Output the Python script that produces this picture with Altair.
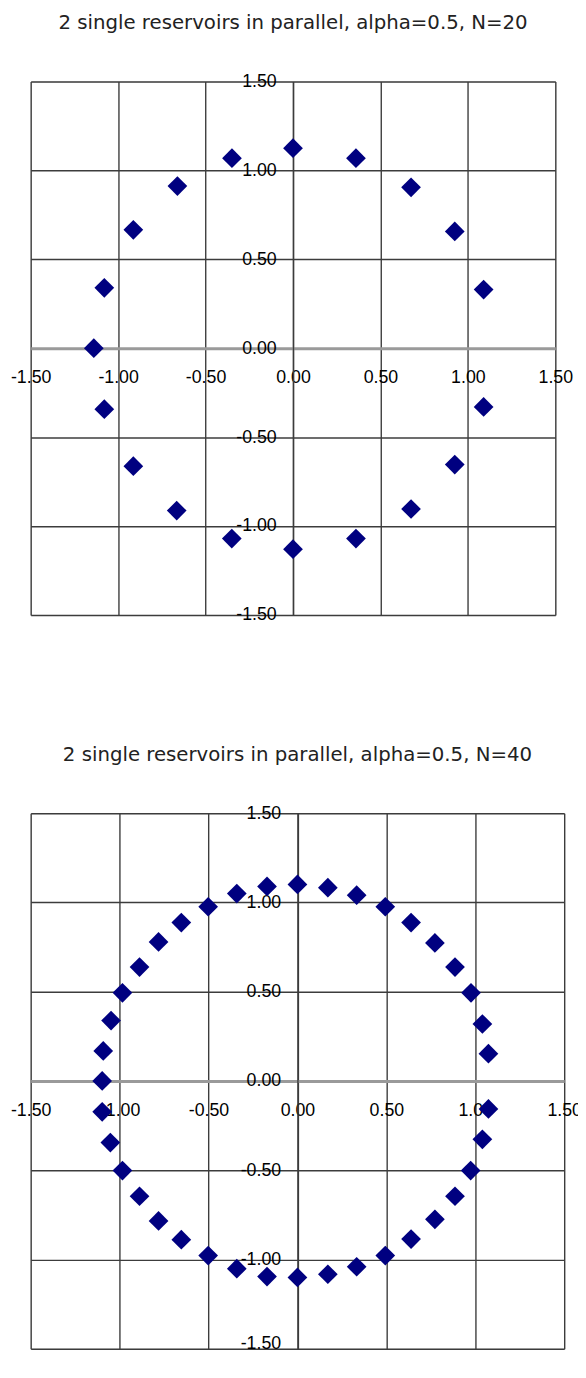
import altair as alt
import pandas as pd

# ---- data ----
title_1 = "2 single reservoirs in parallel, alpha=0.5, N=20"
x_20 = [0.00, 0.36, 0.675, 0.925, 1.09, 1.09, 0.925, 0.675, 0.36, 0.00,
        -0.35, -0.665, -0.913, -1.079, -1.139, -1.079, -0.913, -0.661, -0.349]
y_20 = [1.125, 1.069, 0.905, 0.657, 0.330, -0.330, -0.654, -0.904, -1.070, -1.130,
        -1.070, -0.913, -0.663, -0.343, 0.00, 0.340, 0.666, 0.912, 1.069]

title_2 = "2 single reservoirs in parallel, alpha=0.5, N=40"
x_40 = [0.00, 0.171, 0.333, 0.494, 0.639, 0.773, 0.886, 0.976, 1.040, 1.074,
        1.074, 1.040, 0.974, 0.886, 0.773, 0.639, 0.494, 0.333, 0.171, 0.00,
        -0.171, -0.341, -0.502, -0.653, -0.781, -0.888, -0.984, -1.052, -1.098, -1.098,
        -1.092, -1.048, -0.984, -0.888, -0.781, -0.653, -0.502, -0.341, -0.171]
y_40 = [1.101, 1.083, 1.041, 0.976, 0.887, 0.773, 0.638, 0.494, 0.319, 0.153,
        -0.157, -0.327, -0.502, -0.646, -0.775, -0.886, -0.978, -1.041, -1.083, -1.101,
        -1.096, -1.052, -0.978, -0.889, -0.784, -0.646, -0.502, -0.345, -0.173, 0.00,
        0.168, 0.338, 0.494, 0.638, 0.779, 0.887, 0.976, 1.050, 1.090]

tick_values = [-1.5, -1.0, -0.5, 0.0, 0.5, 1.0, 1.5]


def panel(xs, ys, title, w, h, lift_bottom_label=False):
    df = pd.DataFrame({"x": xs, "y": ys})
    label_expr = "replace(format(datum.value, '.2f'), '\u2212', '-')"
    y_baseline = (
        alt.condition("datum.value == -1.5", alt.value("alphabetic"), alt.value("middle"))
        if lift_bottom_label else "middle"
    )
    x_axis = alt.Axis(
        orient="bottom", offset=-h / 2, values=tick_values, labelExpr=label_expr,
        grid=True, gridColor="#3c3c3c", gridWidth=1.4,
        domain=True, domainColor="#9a9a9a", domainWidth=3,
        ticks=False, labelPadding=21, labelFlush=False, labelOverlap=False,
        labelBound=False, labelFont="Liberation Sans", labelFontSize=18,
        labelColor="#000", title=None, zindex=0,
    )
    y_axis = alt.Axis(
        orient="left", offset=-w / 2, values=tick_values, labelExpr=label_expr,
        grid=True, gridColor="#3c3c3c", gridWidth=1.4,
        domain=True, domainColor="#3c3c3c", domainWidth=1.4,
        ticks=False, labelPadding=17, labelFlush=False, labelOverlap=False,
        labelBound=False, labelBaseline=y_baseline,
        labelFont="Liberation Sans", labelFontSize=18, labelColor="#000",
        title=None, zindex=0,
    )
    return (
        alt.Chart(df)
        .mark_point(shape="diamond", filled=True, color="#000080", size=400, opacity=1)
        .encode(
            x=alt.X("x:Q", scale=alt.Scale(domain=[-1.5, 1.5], nice=False, zero=False), axis=x_axis),
            y=alt.Y("y:Q", scale=alt.Scale(domain=[-1.5, 1.5], nice=False, zero=False), axis=y_axis),
        )
        .properties(
            width=w, height=h,
            title=alt.TitleParams(title, font="DejaVu Sans", fontSize=20, fontWeight="normal",
                                  color="#222", offset=40, anchor="middle"),
        )
    )


top = panel(x_20, y_20, title_1, 532, 541)
bottom = panel(x_40, y_40, title_2, 541, 543, lift_bottom_label=True)

chart = (
    alt.vconcat(top, bottom, spacing=121)
    .properties(padding={"left": 1, "top": -5, "right": -5, "bottom": 0})
    .configure_view(stroke="#444", strokeWidth=2.5)
    .configure(background="white")
)

chart.save("out.html", embed_options={"renderer": "svg", "actions": False})
